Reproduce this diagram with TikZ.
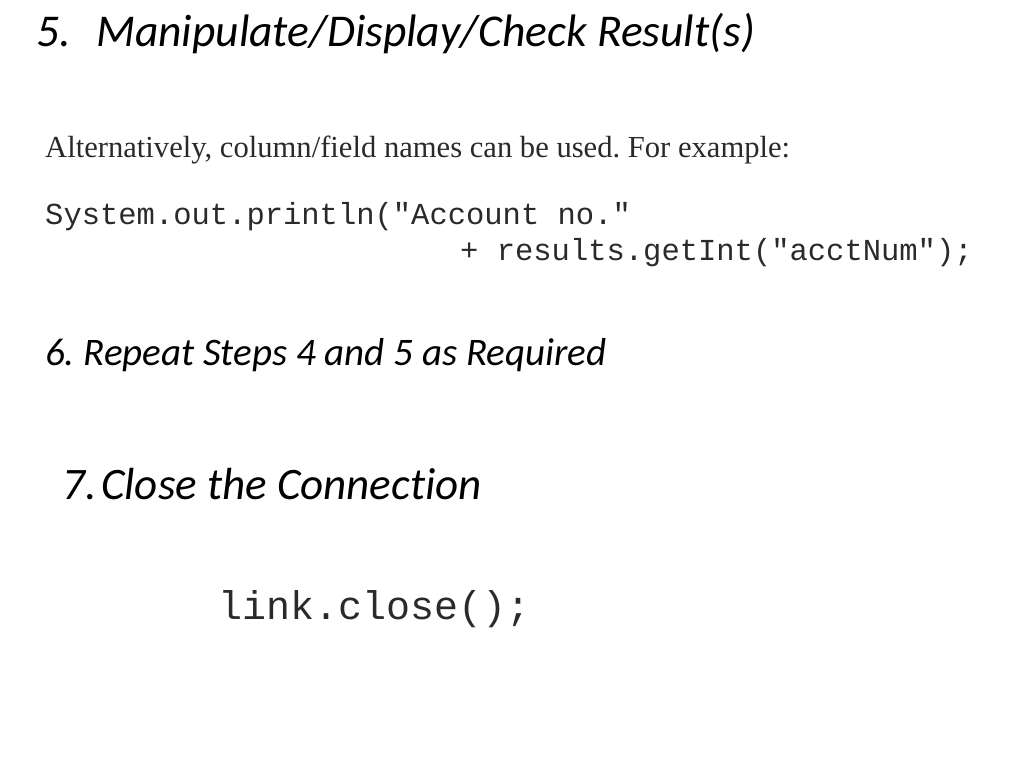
\documentclass[tikz,border=0pt]{standalone}
\usepackage{fontspec}
\setmainfont{Liberation Serif}
\newfontfamily\calibri[Ligatures=NoCommon]{Carlito}
\setmonofont{Liberation Mono}
\usepackage{tikz}
\frenchspacing
\definecolor{scan}{HTML}{2A2A2A}
\tikzset{
  steptext/.style={anchor=base west, inner sep=0pt, font=\calibri\itshape},
  scantext/.style={anchor=base west, inner sep=0pt, text=scan},
  codetext/.style={scantext, font=\ttfamily\fontsize{30.5}{36}\selectfont}
}

\begin{document}
\begin{tikzpicture}[x=1pt,y=-1pt]
\useasboundingbox (0,0) rectangle (1024,768);
\node[steptext, font=\calibri\itshape\fontsize{45.5}{52}\selectfont] (num5) at (36,46) {5.};
\node[steptext, font=\calibri\itshape\fontsize{45.5}{52}\selectfont] (step5) at (96,46) {Manipulate/Display/Check Result(s)};
\node[scantext, font=\fontsize{30.6}{36}\selectfont] (alt) at (45,157) {Alternatively, column/field names can be used. For example:};
\node[codetext] (code1) at (45,224) {System.out.println("Account no."};
\node[codetext] (code2) at (460,260) {+ results.getInt("acctNum");};
\node[steptext, font=\calibri\itshape\fontsize{39}{46}\selectfont] (step6) at (45,365) {6. Repeat Steps 4 and 5 as Required};
\node[steptext, font=\calibri\itshape\fontsize{45}{52}\selectfont] (num7) at (62,499) {7.};
\node[steptext, font=\calibri\itshape\fontsize{45}{52}\selectfont] (step7) at (101,499) {Close the Connection};
\node[codetext, font=\ttfamily\fontsize{40}{46}\selectfont] (close) at (218,619) {link.close();};
\end{tikzpicture}
\end{document}
